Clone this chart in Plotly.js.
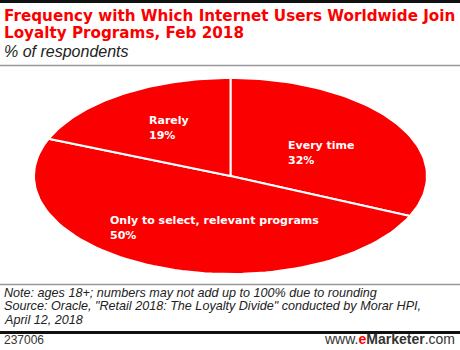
<!DOCTYPE html>
<html>
<head>
<meta charset="utf-8">
<script src="https://cdn.plot.ly/plotly-3.0.1.min.js"></script>
<style>
  html, body { margin: 0; padding: 0; background: #fff; }
  #chart { width: 460px; height: 350px; }
</style>
</head>
<body>
<div id="chart"></div>
<script>
// ---- data ----
const categories = ["Every time", "Only to select, relevant programs", "Rarely"];
const values = [32, 50, 19];
const titleLines = ["Frequency with Which Internet Users Worldwide Join", "Loyalty Programs, Feb 2018"];
const subtitle = "% of respondents";
const noteLines = [
  "Note: ages 18+; numbers may not add up to 100% due to rounding",
  "Source: Oracle, \"Retail 2018: The Loyalty Divide\" conducted by Morar HPI,",
  "April 12, 2018"
];
const chartId = "237006";

// ---- layout constants (pixels) ----
const W = 460, H = 350;
const cx = 230.5, cy = 176, rx = 196.5, ry = 98;
const RED = "#fb0000";
// label anchor positions (left x, baseline of first line)
const labelPos = [[287, 149], [109, 224], [148, 124]];

const px = x => x / W;
const py = y => 1 - y / H;

// ---- slices built from values ----
const total = values.reduce((a, b) => a + b, 0);
const traces = [];
let cum = 0;
values.forEach((v, i) => {
  const t0 = cum / total, t1 = (cum + v) / total;
  cum += v;
  const xs = [0], ys = [0];
  const n = 80;
  for (let k = 0; k <= n; k++) {
    const t = t0 + (t1 - t0) * k / n;
    xs.push(Math.sin(2 * Math.PI * t));
    ys.push(Math.cos(2 * Math.PI * t));
  }
  xs.push(0); ys.push(0);
  traces.push({
    type: "scatter", mode: "lines", x: xs, y: ys,
    fill: "toself", fillcolor: RED,
    line: { color: "#ffffff", width: 2 },
    hoverinfo: "skip", showlegend: false, name: categories[i]
  });
});

// ---- annotations ----
const ann = [];
const labelFont = { family: "DejaVu Sans", size: 11, color: "#ffffff" };
function textAt(text, x, baseline, font, anchor) {
  ann.push({
    text: text, xref: "paper", yref: "paper",
    x: px(x), y: py(baseline - font.size * 0.36),
    xanchor: anchor || "left", yanchor: "middle",
    showarrow: false, font: font, borderpad: 0
  });
}
categories.forEach((c, i) => {
  const [lx, ly] = labelPos[i];
  textAt("<b>" + c + "</b>", lx, ly, labelFont);
  textAt("<b>" + values[i] + "%</b>", lx, ly + 15, labelFont);
});
const titleFont = { family: "DejaVu Sans", size: 15.2, color: RED };
textAt("<b>" + titleLines[0] + "</b>", 3, 21, titleFont);
textAt("<b>" + titleLines[1] + "</b>", 3, 38, titleFont);
textAt("<i>" + subtitle + "</i>", 3, 57, { family: "Liberation Sans", size: 16, color: "#222" });
const noteFont = { family: "Liberation Sans", size: 12.6, color: "#222" };
noteLines.forEach((l, i) => textAt("<i>" + l + "</i>", 3, 297.5 + i * 13.5, noteFont));
textAt(chartId, 3, 344, { family: "Liberation Sans", size: 12, color: "#333" });
textAt("www.<b><span style='color:" + RED + "'>e</span>Marketer</b>.com", 456, 344,
  { family: "Liberation Sans", size: 14, color: "#333" }, "right");

// ---- shapes (rules) ----
const shapes = [
  { type: "line", xref: "paper", yref: "paper", x0: 0, x1: 1, y0: py(1.5), y1: py(1.5), line: { color: "#111", width: 3 } },
  { type: "line", xref: "paper", yref: "paper", x0: 0, x1: 1, y0: py(65.5), y1: py(65.5), line: { color: "#999", width: 1.5 } },
  { type: "line", xref: "paper", yref: "paper", x0: 0, x1: 1, y0: py(284.5), y1: py(284.5), line: { color: "#999", width: 1.5 } },
  { type: "line", xref: "paper", yref: "paper", x0: 0, x1: 1, y0: py(332.5), y1: py(332.5), line: { color: "#111", width: 3 } }
];

const layout = {
  width: W, height: H,
  margin: { l: 0, r: 0, t: 0, b: 0 },
  paper_bgcolor: "#fff", plot_bgcolor: "#fff",
  xaxis: { range: [-cx / rx, (W - cx) / rx], visible: false, fixedrange: true },
  yaxis: { range: [-(H - cy) / ry, cy / ry], visible: false, fixedrange: true },
  showlegend: false,
  annotations: ann,
  shapes: shapes
};

Plotly.newPlot("chart", traces, layout, { displayModeBar: false, staticPlot: true });
</script>
</body>
</html>
